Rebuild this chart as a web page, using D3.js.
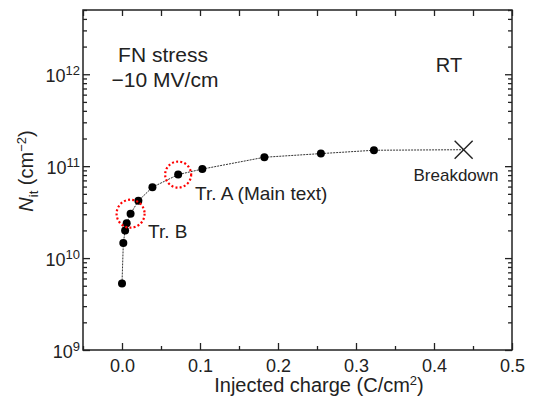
<!DOCTYPE html>
<html>
<head>
<meta charset="utf-8">
<script src="https://cdn.jsdelivr.net/npm/d3@7"></script>
<style>
  body { margin: 0; background: #fff; }
  svg text { font-family: "Liberation Sans", Arial, sans-serif; fill: #222; }
</style>
</head>
<body>
<div id="chart"></div>
<script>
// injected charge (C/cm2) and Nit (cm-2)
var charge = [0.0, 0.0017, 0.004, 0.006, 0.011, 0.021, 0.039, 0.072, 0.103, 0.1825, 0.255, 0.323]
var nit = [5.3e9, 1.46e10, 1.99e10, 2.4e10, 3.04e10, 4.2e10, 5.9e10, 8.1e10, 9.3e10, 1.25e11, 1.37e11, 1.49e11]
var breakdownCharge = 0.438
var breakdownNit = 1.51e11
var trA = { charge: 0.072, nit: 8.1e10 }
var trB = { charge: 0.011, nit: 3.04e10 }

var xMajor = [0.0, 0.1, 0.2, 0.3, 0.4, 0.5]
var xMinor = [-0.05, 0.05, 0.15, 0.25, 0.35, 0.45]
var yMajorExp = [9, 10, 11, 12]

var margin = { top: 10, left: 83, right: 21, bottom: 52 }
var width = 533 - margin.left - margin.right
var height = 402 - margin.top - margin.bottom

var svg = d3
  .select('#chart')
  .append('svg')
  .attr('width', 533)
  .attr('height', 402)
  .append('g')
  .attr('transform', 'translate(' + margin.left + ',' + margin.top + ')')

var xScale = d3.scaleLinear().domain([-0.05, 0.5]).range([0, width])
var yScale = d3.scaleLog().domain([1e9, 5e12]).range([height, 0])

// minor log ticks 2..9 per decade
var yMinor = []
for (var e = 9; e <= 12; e++) {
  for (var m = 2; m <= 9; m++) {
    if (m * Math.pow(10, e) <= 5e12) yMinor.push(m * Math.pow(10, e))
  }
}
var yMajor = yMajorExp.map(e => Math.pow(10, e))

function tickStyle(g) {
  g.select('.domain').remove()
  g.selectAll('line').attr('stroke', '#222').attr('stroke-width', 1.3)
}

// bottom axis
svg.append('g')
  .attr('transform', 'translate(0,' + height + ')')
  .call(d3.axisBottom(xScale).tickValues(xMajor).tickSize(-7).tickPadding(9)
    .tickFormat(d3.format('.1f')))
  .call(tickStyle)
  .call(g => g.selectAll('text').attr('font-size', 18).attr('fill', '#222'))
svg.append('g')
  .attr('transform', 'translate(0,' + height + ')')
  .call(d3.axisBottom(xScale).tickValues(xMinor).tickSize(-4).tickFormat(''))
  .call(tickStyle)

// top axis
svg.append('g')
  .call(d3.axisTop(xScale).tickValues(xMajor.concat(xMinor)).tickSize(-6).tickFormat(''))
  .call(tickStyle)

// left axis
svg.append('g')
  .call(d3.axisLeft(yScale).tickValues(yMajor).tickSize(-7).tickFormat(''))
  .call(tickStyle)
svg.append('g')
  .call(d3.axisLeft(yScale).tickValues(yMinor).tickSize(-4).tickFormat(''))
  .call(tickStyle)

// right axis
svg.append('g')
  .attr('transform', 'translate(' + width + ',0)')
  .call(d3.axisRight(yScale).tickValues(yMajor).tickSize(-7).tickFormat(''))
  .call(tickStyle)
svg.append('g')
  .attr('transform', 'translate(' + width + ',0)')
  .call(d3.axisRight(yScale).tickValues(yMinor).tickSize(-4).tickFormat(''))
  .call(tickStyle)

// y tick labels as 10^n
var yLabels = svg.selectAll('.ylab')
  .data(yMajorExp)
  .enter()
  .append('text')
  .attr('class', 'ylab')
  .attr('x', -3)
  .attr('y', d => yScale(Math.pow(10, d)) + 8)
  .attr('text-anchor', 'end')
  .attr('font-size', 18)
yLabels.append('tspan').text('10')
yLabels.append('tspan').attr('dy', -7).attr('font-size', 13).text(d => d)

// frame
svg.append('rect')
  .attr('width', width)
  .attr('height', height)
  .attr('fill', 'none')
  .attr('stroke', '#222')
  .attr('stroke-width', 1.5)

// dotted connecting line, through to breakdown
var points = charge.map((c, i) => ({ x: c, y: nit[i] }))
var linePoints = points.concat([{ x: breakdownCharge, y: breakdownNit }])
var line = d3.line().x(d => xScale(d.x)).y(d => yScale(d.y))

svg.append('path')
  .datum(linePoints)
  .attr('d', line)
  .attr('fill', 'none')
  .attr('stroke', '#333')
  .attr('stroke-width', 1)
  .attr('stroke-dasharray', '2,1')

svg.selectAll('.dot')
  .data(points)
  .enter()
  .append('circle')
  .attr('class', 'dot')
  .attr('cx', d => xScale(d.x))
  .attr('cy', d => yScale(d.y))
  .attr('r', 4)
  .attr('fill', '#000')

// breakdown cross
var bx = xScale(breakdownCharge)
var by = yScale(breakdownNit)
svg.append('path')
  .attr('d', 'M' + (bx - 9) + ',' + (by - 9) + 'L' + (bx + 9) + ',' + (by + 9) +
    'M' + (bx - 9) + ',' + (by + 9) + 'L' + (bx + 9) + ',' + (by - 9))
  .attr('stroke', '#222')
  .attr('stroke-width', 1.4)
  .attr('fill', 'none')

// red dotted highlight circles
svg.selectAll('.hl')
  .data([{ d: trA, r: 13 }, { d: trB, r: 14 }])
  .enter()
  .append('circle')
  .attr('class', 'hl')
  .attr('cx', d => xScale(d.d.charge))
  .attr('cy', d => yScale(d.d.nit))
  .attr('r', d => d.r)
  .attr('fill', 'none')
  .attr('stroke', '#f00')
  .attr('stroke-width', 2.2)
  .attr('stroke-dasharray', '2,2.2')

// annotations
svg.append('text').attr('x', 80).attr('y', 52).attr('text-anchor', 'middle')
  .attr('font-size', 21).text('FN stress')
svg.append('text').attr('x', 82).attr('y', 77).attr('text-anchor', 'middle')
  .attr('font-size', 21).text('\u221210 MV/cm')
svg.append('text').attr('x', 366).attr('y', 62).attr('text-anchor', 'middle')
  .attr('font-size', 20).text('RT')
svg.append('text').attr('x', 373).attr('y', 171).attr('text-anchor', 'middle')
  .attr('font-size', 17).text('Breakdown')
svg.append('text').attr('x', 112).attr('y', 190)
  .attr('font-size', 19).text('Tr. A (Main text)')
svg.append('text').attr('x', 65).attr('y', 228)
  .attr('font-size', 19).text('Tr. B')

// axis titles
var xt = svg.append('text')
  .attr('x', 236)
  .attr('y', height + 42)
  .attr('text-anchor', 'middle')
  .attr('font-size', 20)
xt.append('tspan').text('Injected charge (C/cm')
xt.append('tspan').attr('dy', -7).attr('font-size', 13).text('2')
xt.append('tspan').attr('dy', 7).text(')')

var yt = svg.append('text')
  .attr('transform', 'translate(' + (33 - margin.left) + ',' + (171 - margin.top) + ') rotate(-90)')
  .attr('text-anchor', 'middle')
  .attr('font-size', 20)
yt.append('tspan').attr('font-style', 'italic').text('N')
yt.append('tspan').attr('dy', 5).attr('font-size', 13).text('it')
yt.append('tspan').attr('dy', -5).text(' (cm')
yt.append('tspan').attr('dy', -7).attr('font-size', 13).text('\u22122')
yt.append('tspan').attr('dy', 7).text(')')
</script>
</body>
</html>
